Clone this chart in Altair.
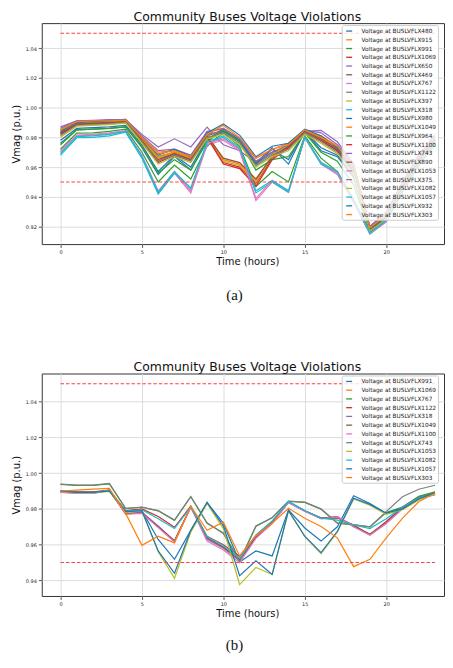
import altair as alt
import pandas as pd

hours = list(range(24))
x_ticks = [0, 5, 10, 15, 20]
limits = [1.05, 0.95]
title_text = "Community Buses Voltage Violations"

tab10 = ["#1f77b4", "#ff7f0e", "#2ca02c", "#d62728", "#9467bd",
         "#8c564b", "#e377c2", "#7f7f7f", "#bcbd22", "#17becf"]

# ---------------- panel (a) ----------------
buses_a = ["480", "915", "991", "1069", "650", "469", "767", "1122", "397", "318", "980",
           "1049", "964", "1100", "743", "890", "1053", "375", "1082", "1057", "932", "303"]

a_480 = [0.976, 0.985, 0.9855, 0.986, 0.987, 0.973, 0.955, 0.967, 0.958, 0.978, 0.986, 0.979, 0.963, 0.973, 0.962, 0.984, 0.971, 0.967, 0.953, 0.917, 0.925, 0.945, 0.963, 0.977]
a_915 = [0.985, 0.9905, 0.991, 0.9915, 0.992, 0.980, 0.970, 0.971, 0.967, 0.983, 0.986, 0.979, 0.966, 0.972, 0.976, 0.984, 0.981, 0.974, 0.961, 0.920, 0.928, 0.948, 0.966, 0.980]
a_991 = [0.972, 0.9828, 0.983, 0.984, 0.9855, 0.970, 0.950, 0.9614, 0.952, 0.974, 0.983, 0.974, 0.947, 0.957, 0.950, 0.981, 0.966, 0.957, 0.938, 0.917, 0.925, 0.945, 0.963, 0.977]
a_1069 = [0.983, 0.989, 0.9895, 0.990, 0.9905, 0.978, 0.965, 0.969, 0.965, 0.981, 0.963, 0.960, 0.949, 0.966, 0.974, 0.984, 0.979, 0.972, 0.957, 0.918, 0.926, 0.946, 0.964, 0.978]
a_650 = [0.987, 0.991, 0.9915, 0.992, 0.992, 0.982, 0.9735, 0.979, 0.9735, 0.9868, 0.975, 0.971, 0.963, 0.970, 0.974, 0.984, 0.9847, 0.977, 0.962, 0.920, 0.930, 0.950, 0.968, 0.982]
a_469 = [0.982, 0.989, 0.9895, 0.990, 0.9905, 0.978, 0.966, 0.969, 0.965, 0.981, 0.985, 0.978, 0.963, 0.970, 0.974, 0.984, 0.979, 0.972, 0.958, 0.918, 0.926, 0.946, 0.964, 0.978]
a_767 = [0.970, 0.981, 0.9815, 0.9825, 0.984, 0.967, 0.942, 0.956, 0.9426, 0.975, 0.978, 0.971, 0.9375, 0.950, 0.943, 0.980, 0.962, 0.955, 0.936, 0.915, 0.923, 0.943, 0.961, 0.975]
a_1122 = [0.983, 0.9895, 0.990, 0.9905, 0.991, 0.979, 0.967, 0.970, 0.966, 0.982, 0.984, 0.977, 0.962, 0.969, 0.973, 0.983, 0.978, 0.971, 0.957, 0.918, 0.927, 0.947, 0.965, 0.979]
a_397 = [0.984, 0.9895, 0.990, 0.9905, 0.991, 0.978, 0.966, 0.970, 0.966, 0.982, 0.964, 0.961, 0.950, 0.967, 0.975, 0.984, 0.979, 0.972, 0.958, 0.918, 0.926, 0.946, 0.964, 0.978]
a_318 = [0.968, 0.9797, 0.980, 0.981, 0.9835, 0.966, 0.942, 0.956, 0.945, 0.976, 0.980, 0.972, 0.9426, 0.950, 0.943, 0.980, 0.962, 0.956, 0.937, 0.915, 0.924, 0.944, 0.962, 0.976]
a_980 = [0.978, 0.986, 0.9865, 0.987, 0.988, 0.975, 0.957, 0.968, 0.960, 0.979, 0.984, 0.978, 0.962, 0.972, 0.965, 0.984, 0.973, 0.968, 0.954, 0.917, 0.925, 0.945, 0.963, 0.977]
a_1049 = [0.985, 0.990, 0.9905, 0.991, 0.9915, 0.979, 0.967, 0.970, 0.966, 0.982, 0.965, 0.962, 0.951, 0.968, 0.976, 0.985, 0.980, 0.973, 0.959, 0.919, 0.927, 0.947, 0.965, 0.979]
a_964 = [0.975, 0.985, 0.9855, 0.986, 0.987, 0.974, 0.956, 0.965, 0.958, 0.977, 0.985, 0.977, 0.958, 0.965, 0.967, 0.983, 0.970, 0.964, 0.948, 0.917, 0.925, 0.945, 0.963, 0.977]
a_1100 = [0.982, 0.9885, 0.989, 0.9895, 0.990, 0.977, 0.963, 0.968, 0.964, 0.980, 0.962, 0.959, 0.947, 0.965, 0.973, 0.983, 0.978, 0.971, 0.956, 0.917, 0.925, 0.945, 0.963, 0.977]
a_743 = [0.986, 0.991, 0.991, 0.9915, 0.992, 0.981, 0.971, 0.972, 0.968, 0.984, 0.986, 0.979, 0.964, 0.970, 0.975, 0.985, 0.983, 0.975, 0.962, 0.920, 0.929, 0.949, 0.967, 0.981]
a_890 = [0.983, 0.989, 0.9895, 0.990, 0.9905, 0.978, 0.964, 0.969, 0.965, 0.981, 0.966, 0.963, 0.952, 0.967, 0.974, 0.984, 0.979, 0.972, 0.957, 0.918, 0.926, 0.946, 0.964, 0.978]
a_1053 = [0.971, 0.9815, 0.982, 0.983, 0.9845, 0.968, 0.944, 0.957, 0.944, 0.976, 0.979, 0.972, 0.939, 0.951, 0.944, 0.980, 0.963, 0.956, 0.937, 0.9155, 0.924, 0.944, 0.962, 0.976]
a_375 = [0.981, 0.988, 0.9885, 0.989, 0.990, 0.977, 0.964, 0.968, 0.964, 0.980, 0.983, 0.976, 0.961, 0.968, 0.972, 0.983, 0.977, 0.970, 0.956, 0.917, 0.925, 0.945, 0.963, 0.978]
a_1082 = [0.980, 0.9875, 0.988, 0.9885, 0.9895, 0.976, 0.962, 0.967, 0.963, 0.979, 0.982, 0.975, 0.960, 0.967, 0.971, 0.982, 0.976, 0.969, 0.955, 0.917, 0.925, 0.945, 0.963, 0.977]
a_1057 = [0.969, 0.9805, 0.981, 0.982, 0.984, 0.967, 0.943, 0.957, 0.946, 0.977, 0.981, 0.973, 0.944, 0.951, 0.944, 0.980, 0.963, 0.957, 0.938, 0.916, 0.924, 0.944, 0.962, 0.976]
a_932 = [0.984, 0.990, 0.9905, 0.991, 0.9915, 0.980, 0.968, 0.972, 0.967, 0.983, 0.989, 0.9815, 0.967, 0.974, 0.976, 0.9855, 0.981, 0.973, 0.959, 0.919, 0.927, 0.947, 0.965, 0.979]
a_303 = [0.985, 0.9905, 0.991, 0.991, 0.9915, 0.980, 0.969, 0.971, 0.967, 0.982, 0.988, 0.980, 0.966, 0.972, 0.975, 0.985, 0.980, 0.974, 0.960, 0.919, 0.928, 0.948, 0.966, 0.980]

series_a = [a_480, a_915, a_991, a_1069, a_650, a_469, a_767, a_1122, a_397, a_318, a_980,
            a_1049, a_964, a_1100, a_743, a_890, a_1053, a_375, a_1082, a_1057, a_932, a_303]
y_dom_a = [0.9082, 1.0568]
y_ticks_a = [0.92, 0.94, 0.96, 0.98, 1.00, 1.02, 1.04]

# ---------------- panel (b) ----------------
buses_b = ["991", "1069", "767", "1122", "318", "1049", "1100", "743", "1053", "1082", "1057", "303"]

b_991 = [0.990, 0.9893, 0.9893, 0.990, 0.9785, 0.979, 0.9629, 0.9518, 0.968, 0.9836, 0.972, 0.9503, 0.9565, 0.9537, 0.9794, 0.9693, 0.962, 0.970, 0.9873, 0.983, 0.9776, 0.9807, 0.9862, 0.989]
b_1069 = [0.9895, 0.989, 0.989, 0.9905, 0.9775, 0.978, 0.970, 0.962, 0.9815, 0.9635, 0.9588, 0.9525, 0.9645, 0.9725, 0.9838, 0.979, 0.9748, 0.9757, 0.970, 0.966, 0.9722, 0.980, 0.986, 0.988]
b_767 = [0.9937, 0.9932, 0.9932, 0.994, 0.9803, 0.9809, 0.9789, 0.9736, 0.9868, 0.972, 0.9665, 0.951, 0.9705, 0.975, 0.9842, 0.9836, 0.9798, 0.972, 0.9711, 0.9699, 0.978, 0.981, 0.987, 0.9895]
b_1122 = [0.990, 0.9895, 0.9895, 0.9905, 0.979, 0.980, 0.9757, 0.9697, 0.9815, 0.9647, 0.960, 0.9535, 0.965, 0.973, 0.984, 0.979, 0.9745, 0.975, 0.971, 0.9656, 0.973, 0.981, 0.9865, 0.9885]
b_318 = [0.9893, 0.9888, 0.9888, 0.9903, 0.9773, 0.978, 0.9705, 0.962, 0.9812, 0.963, 0.958, 0.951, 0.964, 0.972, 0.9836, 0.9788, 0.9748, 0.9757, 0.9702, 0.9655, 0.972, 0.9802, 0.9858, 0.9882]
b_1049 = [0.9896, 0.989, 0.989, 0.9905, 0.9772, 0.9778, 0.970, 0.9622, 0.981, 0.9638, 0.9585, 0.9515, 0.9642, 0.9722, 0.9838, 0.979, 0.975, 0.9752, 0.9705, 0.9658, 0.9722, 0.9805, 0.986, 0.9884]
b_1100 = [0.9892, 0.9887, 0.9887, 0.9902, 0.977, 0.9775, 0.9695, 0.9615, 0.9808, 0.962, 0.957, 0.950, 0.9635, 0.9718, 0.9835, 0.9785, 0.9745, 0.9755, 0.970, 0.9652, 0.9718, 0.980, 0.9855, 0.988]
b_743 = [0.9938, 0.9933, 0.9933, 0.9942, 0.9802, 0.981, 0.979, 0.9738, 0.9869, 0.9722, 0.9662, 0.9505, 0.9702, 0.9752, 0.9844, 0.9838, 0.980, 0.9722, 0.9712, 0.970, 0.9785, 0.9868, 0.991, 0.9932]
b_1053 = [0.9898, 0.989, 0.989, 0.9898, 0.978, 0.9788, 0.956, 0.9412, 0.967, 0.983, 0.969, 0.9377, 0.9473, 0.9433, 0.9788, 0.9645, 0.955, 0.967, 0.9855, 0.982, 0.977, 0.9795, 0.985, 0.9885]
b_1082 = [0.990, 0.9893, 0.9893, 0.9903, 0.9788, 0.9795, 0.9745, 0.969, 0.981, 0.9645, 0.9595, 0.9525, 0.9655, 0.9732, 0.9842, 0.979, 0.9748, 0.9737, 0.971, 0.969, 0.9745, 0.981, 0.9862, 0.9885]
b_1057 = [0.990, 0.9892, 0.9892, 0.990, 0.9785, 0.979, 0.9565, 0.944, 0.968, 0.9836, 0.9705, 0.9427, 0.951, 0.9433, 0.9792, 0.9647, 0.9555, 0.9675, 0.986, 0.9825, 0.9776, 0.980, 0.9855, 0.989]
b_303 = [0.990, 0.9905, 0.991, 0.9915, 0.9775, 0.9596, 0.9647, 0.961, 0.9815, 0.968, 0.9726, 0.9537, 0.965, 0.972, 0.9803, 0.9748, 0.9702, 0.9638, 0.9477, 0.9518, 0.9638, 0.9748, 0.984, 0.9887]

series_b = [b_991, b_1069, b_767, b_1122, b_318, b_1049, b_1100, b_743, b_1053, b_1082, b_1057, b_303]
y_dom_b = [0.9313, 1.0557]
y_ticks_b = [0.94, 0.96, 0.98, 1.00, 1.02, 1.04]

FONT = "DejaVu Sans"


def panel(buses, series, ydom, yticks, caption, plot_h, cap_y):
    names = ["Voltage at BUSLVFLX" + b for b in buses]
    colors = [tab10[i % 10] for i in range(len(names))]
    rows = []
    for n, s in zip(names, series):
        for h, v in zip(hours, s):
            rows.append({"hour": h, "v": v, "series": n})
    df = pd.DataFrame(rows)

    xscale = alt.Scale(domain=[-1.15, 23.55], nice=False, zero=False)
    yscale = alt.Scale(domain=ydom, nice=False, zero=False)
    xaxis = alt.Axis(values=x_ticks, title="Time (hours)", labelPadding=2, titlePadding=2,
                     labelOverlap=False, tickCount=20, titleX=207)
    yaxis = alt.Axis(values=yticks, format=".2f", title="Vmag (p.u.)", labelPadding=2,
                     titlePadding=4, labelOverlap=False, tickCount=20)

    lines = alt.Chart(df).mark_line(strokeWidth=1.2, clip=True).encode(
        x=alt.X("hour:Q", scale=xscale, axis=xaxis, title="Time (hours)"),
        y=alt.Y("v:Q", scale=yscale, axis=yaxis, title="Vmag (p.u.)"),
        color=alt.Color("series:N", scale=alt.Scale(domain=names, range=colors), title=None,
                        legend=alt.Legend(orient="none", legendX=302, legendY=2,
                                          symbolType="M-0.5,0H1.5", symbolSize=36,
                                          symbolStrokeWidth=1.3, labelFont=FONT,
                                          labelFontSize=5.8, labelOffset=10, rowPadding=1.8,
                                          columnPadding=0, padding=2,
                                          fillColor="rgba(255,255,255,0.8)",
                                          strokeColor="#cccccc", cornerRadius=2,
                                          labelColor="#222222")),
    )

    lim_df = pd.DataFrame({"v": limits, "h0": [0, 0], "h1": [23, 23]})
    rules = alt.Chart(lim_df).mark_rule(color="#ff4040", strokeWidth=1.1, strokeDash=[3.5, 2]).encode(
        x=alt.X("h0:Q", title="Time (hours)"),
        x2="h1:Q",
        y=alt.Y("v:Q", title="Vmag (p.u.)"),
    )

    cap = alt.Chart(pd.DataFrame({"t": [caption]})).mark_text(
        font="Liberation Serif", fontSize=15, baseline="middle", align="center", color="#111111"
    ).encode(text="t:N", x=alt.value(194), y=alt.value(cap_y))

    return alt.layer(lines, rules, cap).properties(
        width=405, height=plot_h,
        title=alt.TitleParams(title_text, font=FONT, fontSize=12.5, fontWeight="normal",
                              color="#111111", offset=0, anchor="middle", dx=4.5),
    )


pa = panel(buses_a, series_a, y_dom_a, y_ticks_a, "(a)", 222.5, 274)
pb = panel(buses_b, series_b, y_dom_b, y_ticks_b, "(b)", 224, 273)

chart = alt.vconcat(pa, pb, spacing=56.8).resolve_scale(
    color="independent", x="independent", y="independent"
).resolve_legend(color="independent").properties(
    padding={"left": 2, "top": 0, "right": 0, "bottom": -2}
).configure_view(stroke="#333333", strokeWidth=1).configure_axis(
    grid=True, gridColor="#dcdcdc", gridWidth=1, domain=False,
    labelFont=FONT, labelFontSize=5, labelColor="#222222",
    tickColor="#333333", tickSize=3.5, tickWidth=0.8,
    titleFont=FONT, titleFontSize=10, titleFontWeight="normal", titleColor="#111111",
)

chart.save("out.html", embed_options={"renderer": "svg", "actions": False})
